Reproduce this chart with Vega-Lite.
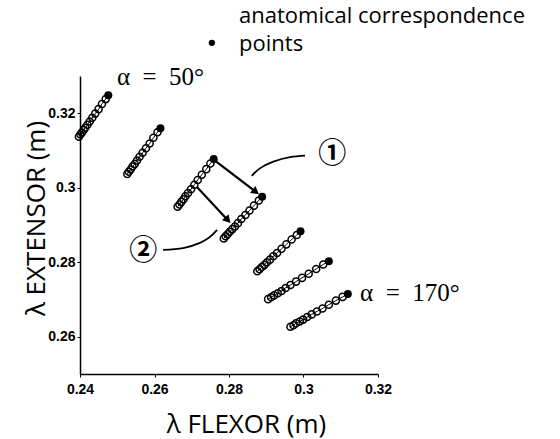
{
  "$schema": "https://vega.github.io/schema/vega-lite/v6.json",
  "width": 298,
  "height": 298,
  "autosize": "none",
  "padding": {"left": 80, "top": 76, "right": 182, "bottom": 65},
  "background": "white",
  "config": {"view": {"stroke": null}},
  "datasets": {
    "pts": [
      {"s":1,"i":0,"x":0.2397,"y":0.3137,"k":"o"},{"s":1,"i":1,"x":0.2401,"y":0.3143,"k":"o"},{"s":1,"i":2,"x":0.2405,"y":0.3148,"k":"o"},{"s":1,"i":3,"x":0.2410,"y":0.3155,"k":"o"},{"s":1,"i":4,"x":0.2414,"y":0.3161,"k":"o"},{"s":1,"i":5,"x":0.2420,"y":0.3169,"k":"o"},{"s":1,"i":6,"x":0.2426,"y":0.3178,"k":"o"},{"s":1,"i":7,"x":0.2433,"y":0.3188,"k":"o"},{"s":1,"i":8,"x":0.2441,"y":0.3199,"k":"o"},{"s":1,"i":9,"x":0.2450,"y":0.3211,"k":"o"},{"s":1,"i":10,"x":0.2459,"y":0.3225,"k":"o"},{"s":1,"i":11,"x":0.2469,"y":0.3238,"k":"o"},{"s":1,"i":12,"x":0.2476,"y":0.3248,"k":"e"},
      {"s":2,"i":0,"x":0.2527,"y":0.3037,"k":"o"},{"s":2,"i":1,"x":0.2531,"y":0.3043,"k":"o"},{"s":2,"i":2,"x":0.2536,"y":0.3049,"k":"o"},{"s":2,"i":3,"x":0.2541,"y":0.3057,"k":"o"},{"s":2,"i":4,"x":0.2547,"y":0.3064,"k":"o"},{"s":2,"i":5,"x":0.2553,"y":0.3073,"k":"o"},{"s":2,"i":6,"x":0.2560,"y":0.3083,"k":"o"},{"s":2,"i":7,"x":0.2568,"y":0.3094,"k":"o"},{"s":2,"i":8,"x":0.2577,"y":0.3106,"k":"o"},{"s":2,"i":9,"x":0.2587,"y":0.3119,"k":"o"},{"s":2,"i":10,"x":0.2597,"y":0.3134,"k":"o"},{"s":2,"i":11,"x":0.2608,"y":0.3149,"k":"o"},{"s":2,"i":12,"x":0.2616,"y":0.3160,"k":"e"},
      {"s":3,"i":0,"x":0.2662,"y":0.2949,"k":"o"},{"s":3,"i":1,"x":0.2667,"y":0.2955,"k":"o"},{"s":3,"i":2,"x":0.2672,"y":0.2962,"k":"o"},{"s":3,"i":3,"x":0.2678,"y":0.2969,"k":"o"},{"s":3,"i":4,"x":0.2683,"y":0.2977,"k":"o"},{"s":3,"i":5,"x":0.2690,"y":0.2986,"k":"o"},{"s":3,"i":6,"x":0.2698,"y":0.2996,"k":"o"},{"s":3,"i":7,"x":0.2707,"y":0.3008,"k":"o"},{"s":3,"i":8,"x":0.2716,"y":0.3021,"k":"o"},{"s":3,"i":9,"x":0.2727,"y":0.3035,"k":"o"},{"s":3,"i":10,"x":0.2739,"y":0.3050,"k":"o"},{"s":3,"i":11,"x":0.2750,"y":0.3065,"k":"o"},{"s":3,"i":12,"x":0.2759,"y":0.3077,"k":"e"},
      {"s":4,"i":0,"x":0.2786,"y":0.2864,"k":"o"},{"s":4,"i":1,"x":0.2791,"y":0.2870,"k":"o"},{"s":4,"i":2,"x":0.2796,"y":0.2875,"k":"o"},{"s":4,"i":3,"x":0.2802,"y":0.2882,"k":"o"},{"s":4,"i":4,"x":0.2809,"y":0.2889,"k":"o"},{"s":4,"i":5,"x":0.2816,"y":0.2896,"k":"o"},{"s":4,"i":6,"x":0.2824,"y":0.2905,"k":"o"},{"s":4,"i":7,"x":0.2833,"y":0.2916,"k":"o"},{"s":4,"i":8,"x":0.2844,"y":0.2927,"k":"o"},{"s":4,"i":9,"x":0.2855,"y":0.2939,"k":"o"},{"s":4,"i":10,"x":0.2867,"y":0.2952,"k":"o"},{"s":4,"i":11,"x":0.2880,"y":0.2966,"k":"o"},{"s":4,"i":12,"x":0.2889,"y":0.2976,"k":"e"},
      {"s":5,"i":0,"x":0.2876,"y":0.2776,"k":"o"},{"s":5,"i":1,"x":0.2882,"y":0.2781,"k":"o"},{"s":5,"i":2,"x":0.2888,"y":0.2787,"k":"o"},{"s":5,"i":3,"x":0.2895,"y":0.2793,"k":"o"},{"s":5,"i":4,"x":0.2902,"y":0.2800,"k":"o"},{"s":5,"i":5,"x":0.2910,"y":0.2807,"k":"o"},{"s":5,"i":6,"x":0.2919,"y":0.2816,"k":"o"},{"s":5,"i":7,"x":0.2929,"y":0.2825,"k":"o"},{"s":5,"i":8,"x":0.2941,"y":0.2836,"k":"o"},{"s":5,"i":9,"x":0.2954,"y":0.2848,"k":"o"},{"s":5,"i":10,"x":0.2968,"y":0.2861,"k":"o"},{"s":5,"i":11,"x":0.2982,"y":0.2873,"k":"o"},{"s":5,"i":12,"x":0.2992,"y":0.2883,"k":"e"},
      {"s":6,"i":0,"x":0.2905,"y":0.2701,"k":"o"},{"s":6,"i":1,"x":0.2913,"y":0.2706,"k":"o"},{"s":6,"i":2,"x":0.2921,"y":0.2711,"k":"o"},{"s":6,"i":3,"x":0.2931,"y":0.2717,"k":"o"},{"s":6,"i":4,"x":0.2941,"y":0.2723,"k":"o"},{"s":6,"i":5,"x":0.2952,"y":0.2731,"k":"o"},{"s":6,"i":6,"x":0.2965,"y":0.2739,"k":"o"},{"s":6,"i":7,"x":0.2980,"y":0.2748,"k":"o"},{"s":6,"i":8,"x":0.2996,"y":0.2758,"k":"o"},{"s":6,"i":9,"x":0.3014,"y":0.2769,"k":"o"},{"s":6,"i":10,"x":0.3034,"y":0.2782,"k":"o"},{"s":6,"i":11,"x":0.3053,"y":0.2794,"k":"o"},{"s":6,"i":12,"x":0.3068,"y":0.2803,"k":"e"},
      {"s":7,"i":0,"x":0.2965,"y":0.2627,"k":"o"},{"s":7,"i":1,"x":0.2973,"y":0.2631,"k":"o"},{"s":7,"i":2,"x":0.2980,"y":0.2636,"k":"o"},{"s":7,"i":3,"x":0.2990,"y":0.2641,"k":"o"},{"s":7,"i":4,"x":0.2999,"y":0.2646,"k":"o"},{"s":7,"i":5,"x":0.3010,"y":0.2653,"k":"o"},{"s":7,"i":6,"x":0.3022,"y":0.2660,"k":"o"},{"s":7,"i":7,"x":0.3036,"y":0.2668,"k":"o"},{"s":7,"i":8,"x":0.3051,"y":0.2676,"k":"o"},{"s":7,"i":9,"x":0.3068,"y":0.2686,"k":"o"},{"s":7,"i":10,"x":0.3087,"y":0.2697,"k":"o"},{"s":7,"i":11,"x":0.3105,"y":0.2707,"k":"o"},{"s":7,"i":12,"x":0.3119,"y":0.2715,"k":"e"}
    ],
    "arrows": [
      {"a":1,"x":0.2757,"y":0.3077,"x2":0.2872,"y2":0.2989,"ang":37},
      {"a":2,"x":0.2714,"y":0.3002,"x2":0.2797,"y2":0.2913,"ang":47}
    ],
    "curves": [
      {"c":1,"i":0,"x":0.3004,"y":0.3086},{"c":1,"i":1,"x":0.2964,"y":0.3082},{"c":1,"i":2,"x":0.2919,"y":0.3070},{"c":1,"i":3,"x":0.2883,"y":0.3052},{"c":1,"i":4,"x":0.2861,"y":0.3032},
      {"c":2,"i":0,"x":0.2623,"y":0.2833},{"c":2,"i":1,"x":0.2677,"y":0.2838},{"c":2,"i":2,"x":0.2722,"y":0.2852},{"c":2,"i":3,"x":0.2749,"y":0.2868},{"c":2,"i":4,"x":0.2768,"y":0.2887}
    ]
  },
  "layer": [
    {
      "data": {"name": "pts"},
      "mark": {"type": "line", "color": "black", "strokeWidth": 1},
      "encoding": {
        "x": {"field": "x", "type": "quantitative", "scale": {"domain": [0.24, 0.32], "nice": false, "zero": false},
          "axis": {"title": "λ FLEXOR (m)", "values": [0.24, 0.26, 0.28, 0.3, 0.32], "format": ".2~f", "grid": false, "labelFlush": false,
            "domainColor": "black", "domainWidth": 1.5, "tickColor": "black", "tickSize": 3, "tickWidth": 1,
            "labelFont": "Liberation Sans", "labelFontWeight": "bold", "labelFontSize": 14, "labelColor": "black", "labelPadding": 5,
            "titleFont": "Open Sans", "titleFontSize": 26, "titleFontWeight": "normal", "titleColor": "black",
            "titleBaseline": "alphabetic", "titleY": 58, "titleX": 166, "titleAlign": "center"}},
        "y": {"field": "y", "type": "quantitative", "scale": {"domain": [0.25, 0.33], "nice": false, "zero": false},
          "axis": {"title": "λ EXTENSOR (m)", "values": [0.26, 0.28, 0.3, 0.32], "format": ".2~f", "grid": false, "labelFlush": false,
            "domainColor": "black", "domainWidth": 1.5, "tickColor": "black", "tickSize": 3, "tickWidth": 1,
            "labelFont": "Liberation Sans", "labelFontWeight": "bold", "labelFontSize": 14, "labelColor": "black", "labelPadding": 2,
            "titleFont": "Open Sans", "titleFontSize": 26, "titleFontWeight": "normal", "titleColor": "black",
            "titleAngle": -90, "titleBaseline": "alphabetic", "titleX": -36, "titleY": 142, "titleAlign": "center"}},
        "detail": {"field": "s", "type": "nominal"},
        "order": {"field": "i", "type": "quantitative"}
      }
    },
    {
      "data": {"name": "pts"},
      "transform": [{"filter": "datum.k == 'o'"}],
      "mark": {"type": "point", "shape": "circle", "filled": false, "stroke": "black", "strokeWidth": 1.5, "size": 50, "opacity": 1},
      "encoding": {
        "x": {"field": "x", "type": "quantitative"},
        "y": {"field": "y", "type": "quantitative"}
      }
    },
    {
      "data": {"name": "pts"},
      "transform": [{"filter": "datum.k == 'e'"}],
      "mark": {"type": "point", "shape": "circle", "filled": true, "color": "black", "size": 64, "opacity": 1},
      "encoding": {
        "x": {"field": "x", "type": "quantitative"},
        "y": {"field": "y", "type": "quantitative"}
      }
    },
    {
      "data": {"name": "arrows"},
      "mark": {"type": "rule", "color": "black", "strokeWidth": 2.2},
      "encoding": {
        "x": {"field": "x", "type": "quantitative"},
        "y": {"field": "y", "type": "quantitative"},
        "x2": {"field": "x2"},
        "y2": {"field": "y2"}
      }
    },
    {
      "data": {"name": "arrows"},
      "mark": {"type": "point", "shape": "triangle-right", "filled": true, "color": "black", "size": 80, "opacity": 1},
      "encoding": {
        "x": {"field": "x2", "type": "quantitative"},
        "y": {"field": "y2", "type": "quantitative"},
        "angle": {"field": "ang", "type": "quantitative", "scale": null}
      }
    },
    {
      "data": {"name": "curves"},
      "mark": {"type": "line", "color": "black", "strokeWidth": 1.8, "interpolate": "natural"},
      "encoding": {
        "x": {"field": "x", "type": "quantitative"},
        "y": {"field": "y", "type": "quantitative"},
        "detail": {"field": "c", "type": "nominal"},
        "order": {"field": "i", "type": "quantitative"}
      }
    },
    {
      "data": {"values": [
        {"x": 0.2499, "y": 0.3297, "t": "α\u2002=\u200250°"},
        {"x": 0.3152, "y": 0.2717, "t": "α\u2002=\u2002170°"}
      ]},
      "mark": {"type": "text", "font": "Liberation Serif", "fontSize": 25, "align": "left", "baseline": "middle", "color": "black"},
      "encoding": {
        "x": {"field": "x", "type": "quantitative"},
        "y": {"field": "y", "type": "quantitative"},
        "text": {"field": "t"}
      }
    },
    {
      "data": {"values": [
        {"x": 0.3077, "y": 0.3088, "t": "①"},
        {"x": 0.2570, "y": 0.2828, "t": "②"}
      ]},
      "mark": {"type": "text", "font": "Noto Sans CJK JP", "fontSize": 28, "fontWeight": "bold", "align": "center", "baseline": "middle", "color": "black"},
      "encoding": {
        "x": {"field": "x", "type": "quantitative"},
        "y": {"field": "y", "type": "quantitative"},
        "text": {"field": "t"}
      }
    },
    {
      "data": {"values": [
        {"x": 0.2827, "y": 0.3461, "t": "anatomical correspondence\npoints"}
      ]},
      "mark": {"type": "text", "font": "Open Sans", "fontSize": 22, "lineHeight": 28, "lineBreak": "\n", "align": "left", "baseline": "middle", "color": "black"},
      "encoding": {
        "x": {"field": "x", "type": "quantitative"},
        "y": {"field": "y", "type": "quantitative"},
        "text": {"field": "t"}
      }
    },
    {
      "data": {"values": [{"x": 0.2754, "y": 0.3389}]},
      "mark": {"type": "point", "shape": "circle", "filled": true, "color": "black", "size": 40, "opacity": 1},
      "encoding": {
        "x": {"field": "x", "type": "quantitative"},
        "y": {"field": "y", "type": "quantitative"}
      }
    }
  ]
}
